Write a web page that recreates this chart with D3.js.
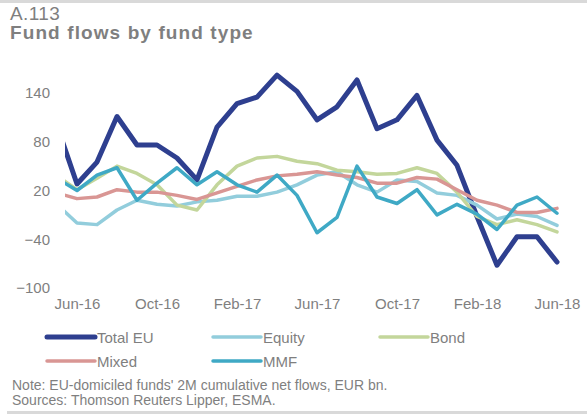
<!DOCTYPE html>
<html>
<head>
<meta charset="utf-8">
<script src="https://cdn.jsdelivr.net/npm/d3@7"></script>
<style>
  body { margin: 0; background: #fff; }
  text { font-family: "Liberation Sans", Arial, sans-serif; }
</style>
</head>
<body>
<svg id="chart"></svg>
<script>
// months May-16 .. Jun-18 (first point sits just outside the plot and is clipped)
var months = ["May-16","Jun-16","Jul-16","Aug-16","Sep-16","Oct-16","Nov-16","Dec-16",
  "Jan-17","Feb-17","Mar-17","Apr-17","May-17","Jun-17","Jul-17","Aug-17","Sep-17","Oct-17","Nov-17","Dec-17",
  "Jan-18","Feb-18","Mar-18","Apr-18","May-18","Jun-18"];
var tickLabels = ["Jun-16","Oct-16","Feb-17","Jun-17","Oct-17","Feb-18","Jun-18"];
var yTicks = [-100, -40, 20, 80, 140];

var totalEU = [100, 28, 55, 111, 76, 76, 60, 33, 98, 127, 135, 162, 142, 107, 123, 156, 96, 107, 137, 82, 51, -12, -72, -37, -37, -68];
var equity  = [3, -20, -22, -4, 8, 3, 1, 6, 8, 13, 13, 18, 27, 39, 43, 27, 18, 33, 31, 17, 14, 2, -15, -9, -12, -23];
var bond    = [38, 21, 35, 50, 41, 27, 2, -4, 27, 50, 60, 62, 56, 53, 45, 43, 40, 41, 48, 41, 18, -12, -22, -16, -22, -31];
var mixed   = [17, 10, 12, 21, 18, 18, 14, 9, 17, 25, 33, 38, 40, 43, 39, 36, 29, 29, 36, 34, 21, 8, 2, -7, -7, -2];
var mmf     = [35, 20, 39, 48, 8, 29, 48, 27, 43, 27, 18, 39, 14, -32, -13, 50, 12, 4, 21, -10, 3, -9, -28, 2, 12, -8];

var seriesNames = ["Total EU", "Equity", "Bond", "Mixed", "MMF"];
var seriesValues = [totalEU, equity, bond, mixed, mmf];
var seriesColors = ["#2e3f8f", "#92cddc", "#c3d69b", "#d99694", "#3fa9c5"];
var seriesWidths = [5, 3.5, 3.5, 3.5, 3.5];

var W = 587, H = 414;
var svg = d3.select("#chart").attr("width", W).attr("height", H);

// frame lines top/bottom
svg.append("rect").attr("x", 0).attr("y", 0).attr("width", W).attr("height", 3).attr("fill", "#d9d9d9");
svg.append("rect").attr("x", 7).attr("y", 411).attr("width", W - 7).attr("height", 3).attr("fill", "#d9d9d9");

svg.append("text").attr("x", 10).attr("y", 20)
  .style("font-size", "19px").style("letter-spacing", "0.4px").attr("fill", "#7f7f7f").text("A.113");
svg.append("text").attr("x", 10).attr("y", 39)
  .style("font-size", "19px").style("font-weight", "bold").style("letter-spacing", "1.1px")
  .attr("fill", "#7f7f7f")
  .text("Fund flows by fund type");

var x = d3.scaleLinear().domain([0, months.length - 1]).range([57, 557]);
var y = d3.scaleLinear().domain([-100, 140]).range([288, 93]);

svg.append("clipPath").attr("id", "plotclip")
  .append("rect").attr("x", 65).attr("y", 60).attr("width", 500).attr("height", 250);

var line = d3.line()
  .x((d, i) => x(i))
  .y(d => y(d));

var g = svg.append("g").attr("clip-path", "url(#plotclip)");
seriesValues.forEach(function (vals, k) {
  g.append("path")
    .datum(vals)
    .attr("d", line)
    .attr("fill", "none")
    .attr("stroke", seriesColors[k])
    .attr("stroke-width", seriesWidths[k])
    .attr("stroke-linejoin", "round")
    .attr("stroke-linecap", "round");
});

// y axis labels
var yAxis = d3.axisLeft(y).tickValues(yTicks).tickSize(0).tickPadding(0);
svg.append("g").attr("transform", "translate(50,0)").call(yAxis)
  .call(a => a.select(".domain").remove())
  .selectAll("text")
  .style("font-size", "15px")
  .style("font-family", "'Liberation Sans', Arial, sans-serif")
  .attr("fill", "#7f7f7f");

// x axis labels
var xAxis = d3.axisBottom(x)
  .tickValues(tickLabels.map(t => months.indexOf(t)))
  .tickFormat(i => months[i])
  .tickSize(0).tickPadding(0);
svg.append("g").attr("transform", "translate(0,298)").call(xAxis)
  .call(a => a.select(".domain").remove())
  .selectAll("text")
  .style("font-size", "15px")
  .style("font-family", "'Liberation Sans', Arial, sans-serif")
  .attr("fill", "#7f7f7f");

// legend
var legX = [47, 213, 380];
var legY = [337, 361];
var leg = svg.append("g");
seriesNames.forEach(function (name, k) {
  var lx = legX[k % 3], ly = legY[Math.floor(k / 3)];
  leg.append("line")
    .attr("x1", lx).attr("x2", lx + 48).attr("y1", ly).attr("y2", ly)
    .attr("stroke", seriesColors[k]).attr("stroke-width", seriesWidths[k])
    .attr("stroke-linecap", "round");
  leg.append("text")
    .attr("x", lx + 50).attr("y", ly + 5.5)
    .style("font-size", "15px").attr("fill", "#7f7f7f")
    .text(name);
});

svg.append("text").attr("x", 12).attr("y", 390)
  .style("font-size", "14px").attr("fill", "#7f7f7f")
  .text("Note: EU-domiciled funds' 2M cumulative net flows, EUR bn.");
svg.append("text").attr("x", 12).attr("y", 405)
  .style("font-size", "14px").attr("fill", "#7f7f7f")
  .text("Sources: Thomson Reuters Lipper, ESMA.");
</script>
</body>
</html>
